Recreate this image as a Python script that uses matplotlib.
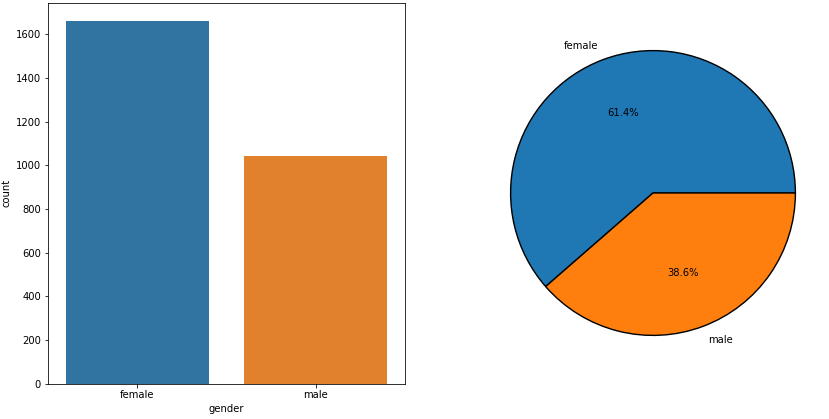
import matplotlib
matplotlib.use("Agg")
import matplotlib.pyplot as plt
import seaborn as sns

genders = ["female", "male"]
counts = [1660, 1043]
pie_colors = ["#1f77b4", "#ff7f0e"]

fig = plt.figure(figsize=(829 / 72, 419 / 72), dpi=72)

# left: count bars (seaborn style desaturated colours)
ax1 = fig.add_axes([48 / 829, 35.5 / 419, 357 / 829, 380.5 / 419])
bar_colors = [sns.desaturate(c, 0.75) for c in pie_colors]
ax1.bar(range(len(genders)), counts, width=0.8, color=bar_colors)
ax1.set_xticks(range(len(genders)))
ax1.set_xticklabels(genders)
ax1.set_xlim(-0.5, len(genders) - 0.5)
ax1.set_ylim(0, max(counts) * 1.05)
ax1.set_xlabel("gender")
ax1.set_ylabel("count")

# right: pie
ax2 = fig.add_axes([475 / 829, 48 / 419, 356 / 829, 356 / 419])
ax2.pie(counts, labels=genders, colors=pie_colors, autopct="%1.1f%%",
        wedgeprops={"edgecolor": "black", "linewidth": 1.4})
ax2.set_aspect("equal")

fig.savefig("out.png", dpi=72)
